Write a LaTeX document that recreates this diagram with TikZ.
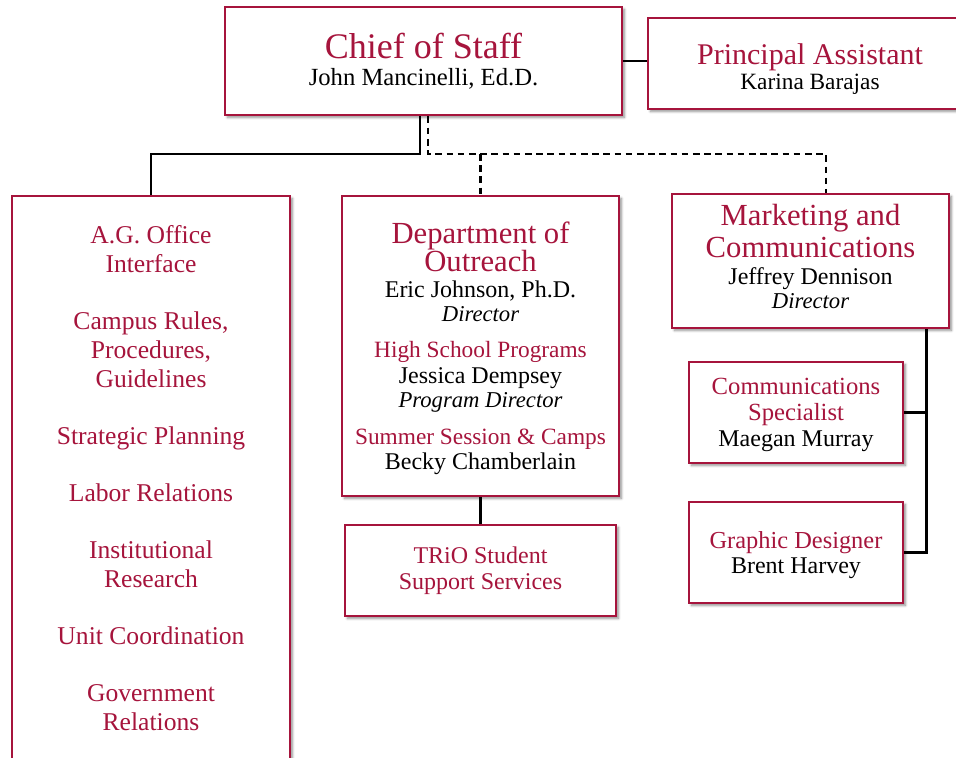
\documentclass[tikz,border=0pt]{standalone}
\usepackage{fontspec}
\setmainfont{Liberation Serif}
\usetikzlibrary{positioning,shadows.blur}
\definecolor{crimson}{HTML}{A6143C}
\newcommand{\tightlines}{\lineskiplimit-100pt\relax}

\begin{document}
\begin{tikzpicture}[x=0.75pt,y=-0.75pt,
  box/.style={draw=crimson,line width=2.2pt,fill=white,align=center,inner sep=0pt,
    blur shadow={shadow xshift=1.8pt,shadow yshift=-1.8pt,shadow blur steps=6,
    shadow opacity=45},font=\fontsize{18}{18.75}\selectfont\tightlines},
  link/.style={draw=black,line width=1.9pt},
  dlink/.style={link,dash pattern=on 5pt off 3.4pt}]
\newcommand{\hd}[2]{{\fontsize{#1}{#1}\selectfont\color{crimson}#2}}
\newcommand{\rl}[1]{{\fontsize{17}{17}\selectfont\itshape #1}}
\useasboundingbox (0,0) rectangle (956,757);

\node[box,minimum width=297.75pt,minimum height=81pt] (chief) at (423.5,61)
  {\hd{27}{Chief of Staff}\\[1.5pt]{\fontsize{18.5}{20}\selectfont John Mancinelli, Ed.D.}};
\node[box,minimum width=243pt,minimum height=68.25pt,text depth=0pt] (pa) at (810,63.5)
  {\hd{22.5}{\rule{0pt}{20pt}Principal Assistant}\\{\fontsize{17.5}{18}\selectfont Karina Barajas}};

\node[box,minimum width=208.5pt,minimum height=423pt,text=crimson,
      font=\fontsize{19.2}{21.75}\selectfont\tightlines] (ag) at (151,478)
  {A.G. Office\\Interface\\[21pt]Campus Rules,\\Procedures,\\Guidelines\\[21pt]
   Strategic Planning\\[21pt]Labor Relations\\[21pt]Institutional\\Research\\[21pt]
   Unit Coordination\\[21pt]Government\\Relations};
\node[box,minimum width=207.75pt,minimum height=225pt,text depth=0pt] (dout) at (480.5,346)
  {\hd{23}{Department of}\\[2.5pt]\hd{23}{Outreach}\\[0.75pt]Eric Johnson, Ph.D.\\[-0.75pt]
   \rl{Director}\\[8.25pt]\hd{17.5}{High School Programs}\\[0.75pt]Jessica Dempsey\\[-0.75pt]
   \rl{Program Director}\\[9pt]\hd{17.5}{Summer Session \& Camps}\\Becky Chamberlain};
\node[box,minimum width=207.75pt,minimum height=100.5pt,text depth=7.5pt] (mkt) at (810.5,261)
  {\hd{23}{Marketing and}\\[5.25pt]\hd{23}{Communications}\\[1.5pt]Jeffrey Dennison\\[-0.75pt]
   \rl{Director}};
\node[box,minimum width=203.25pt,minimum height=68.25pt] (trio) at (480.5,570.5)
  {\hd{18}{TRiO Student}\\[0.75pt]\hd{18}{Support Services}};
\node[box,minimum width=160.5pt,minimum height=75.75pt,text depth=0pt] (comm) at (796,412.5)
  {\hd{18.5}{Communications}\\[0.75pt]\hd{18.5}{Specialist}\\[0.75pt]Maegan Murray};
\node[box,minimum width=160.5pt,minimum height=75.75pt,text depth=0pt] (gd) at (796,552.5)
  {\hd{18.3}{Graphic Designer}\\Brent Harvey};

% connectors
\coordinate (bus) at (0,154);
\coordinate (spine) at ([xshift=87pt]mkt.south);
\draw[link] (chief.east) -- (chief.east -| pa.west);
\draw[link] ([xshift=-2.6pt]chief.south) -- ([xshift=-2.6pt]chief.south |- bus) -| (ag.north);
\draw[dlink] ([xshift=3.4pt]chief.south) -- ([xshift=3.4pt]chief.south |- bus)
  -| ([xshift=11.6pt]mkt.north);
\draw[dlink] (dout.north |- bus) -- (dout.north);
\draw[link] (dout.south) -- (trio.north);
\draw[link] (spine) |- (gd.east);
\draw[link] (comm.east) -- (comm.east -| spine);
\end{tikzpicture}
\end{document}
